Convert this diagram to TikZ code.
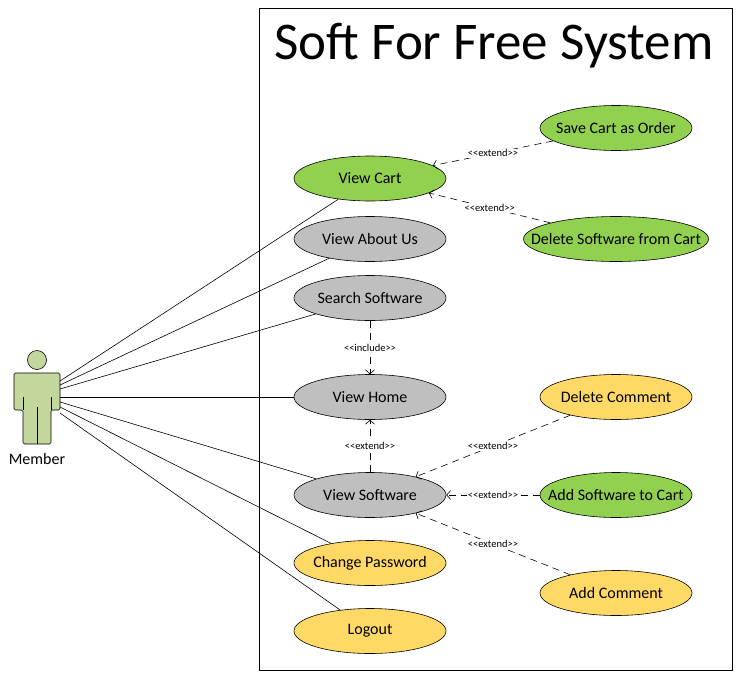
\documentclass[tikz,border=0pt]{standalone}
\usepackage{fontspec}
\setmainfont{Carlito}
\usetikzlibrary{shapes.geometric, arrows.meta, positioning}

\definecolor{ucgreen}{HTML}{92D050}
\definecolor{ucgray}{HTML}{BFBFBF}
\definecolor{ucyellow}{HTML}{FFD966}
\definecolor{actorgreen}{HTML}{C3D69B}
\newcommand{\stereotype}[1]{<\kern0pt<#1>\kern0pt>}

\begin{document}
\begin{tikzpicture}[x=1pt, y=-1pt,
  usecase/.style={ellipse, draw, line width=0.6pt, minimum width=152pt,
    minimum height=45pt, inner xsep=-35pt, inner ysep=0pt,
    font=\fontsize{16}{18}\selectfont},
  greencase/.style={usecase, fill=ucgreen},
  graycase/.style={usecase, fill=ucgray},
  yellowcase/.style={usecase, fill=ucyellow},
  dep/.style={dash pattern=on 7pt off 5pt, line width=0.6pt,
    -{Straight Barb[length=4pt, width=9pt]}},
  stereo/.style={fill=white, inner sep=1pt, font=\fontsize{10.5}{11}\selectfont}]

  \useasboundingbox (0,0) rectangle (741,672);

  % system boundary
  \node[draw, line width=0.7pt, minimum width=473pt, minimum height=662pt,
    inner sep=0pt] (system) at (495.5,339) {};
  \node[font=\fontsize{53}{58}\selectfont] (title) at (494,46) {Soft For Free System};

  % actor
  \draw[fill=actorgreen, line width=0.6pt] (37,360) circle (9.5);
  \draw[fill=actorgreen, line width=0.6pt, rounded corners=1.5pt]
    (14,373) -- (60,373) -- (60,410) -- (51,410) -- (51,444) -- (23,444)
    -- (23,410) -- (14,410) -- cycle;
  \draw[line width=0.6pt] (23,397) -- (23,410) (51,397) -- (51,410) (37,407) -- (37,444);
  \node[font=\fontsize{16}{18}\selectfont] (member) at (37,459) {Member};

  % use cases
  \node[greencase] (cart) at (370,178.5) {View Cart};
  \node[graycase] (about) at (370,239) {View About Us};
  \node[graycase] (search) at (370,298) {Search Software};
  \node[graycase] (home) at (370,397) {View Home};
  \node[graycase] (software) at (370,495) {View Software};
  \node[yellowcase] (password) at (370,563) {Change Password};
  \node[yellowcase] (logout) at (370,631) {Logout};

  \node[greencase] (saveorder) at (616,128) {Save Cart as Order};
  \node[greencase, minimum width=185pt] (delsoftware) at (616,239) {Delete Software from Cart};
  \node[yellowcase] (delcomment) at (616,397) {Delete Comment};
  \node[greencase] (addcart) at (616,495) {Add Software to Cart};
  \node[yellowcase] (addcomment) at (616,593) {Add Comment};

  % actor associations
  \foreach \y/\uc in {381/cart, 385/about, 389/search, 397/home,
                      402/software, 407/password, 413/logout} {
    \coordinate (m-\uc) at (60,\y);
    \draw[line width=0.6pt] (m-\uc) -- (\uc);
  }

  % include / extend
  \draw[dep] (search) -- node[stereo] {\stereotype{include}} (home);
  \draw[dep] (software) -- node[stereo] {\stereotype{extend}} (home);
  \draw[dep] (saveorder) -- node[stereo] {\stereotype{extend}} (cart);
  \draw[dep] (delsoftware) -- node[stereo] {\stereotype{extend}} (cart);
  \draw[dep] (delcomment) -- node[stereo] {\stereotype{extend}} (software);
  \draw[dep] (addcart) -- node[stereo] {\stereotype{extend}} (software);
  \draw[dep] (addcomment) -- node[stereo] {\stereotype{extend}} (software);
\end{tikzpicture}
\end{document}
